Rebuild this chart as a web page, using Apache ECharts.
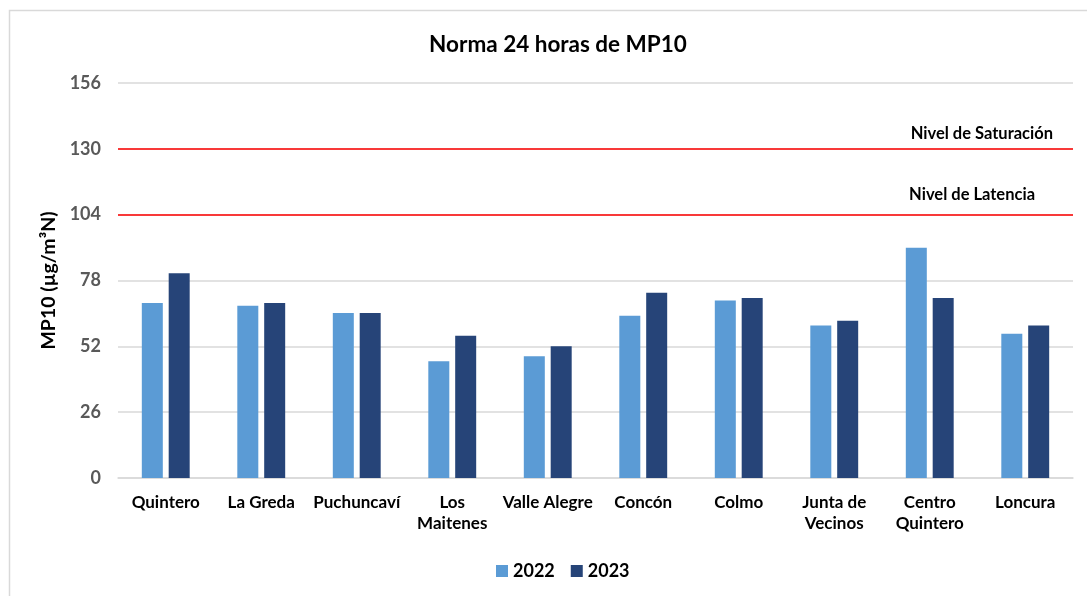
<!DOCTYPE html>
<html>
<head>
<meta charset="utf-8">
<title>Norma 24 horas de MP10</title>
<script src="https://cdn.jsdelivr.net/npm/echarts@6/dist/echarts.min.js"></script>
<style>
  html, body { margin: 0; padding: 0; background: #fff; }
  #chart { width: 1087px; height: 596px; }
</style>
</head>
<body>
<div id="chart"></div>
<script>
// datos
var estaciones = ['Quintero', 'La Greda', 'Puchuncaví', 'Los\nMaitenes', 'Valle Alegre', 'Concón', 'Colmo', 'Junta de\nVecinos', 'Centro\nQuintero', 'Loncura']
var anio2022 = [69.1, 68.0, 65.2, 46.1, 48.1, 64.1, 70.1, 60.2, 90.9, 57.0]
var anio2023 = [80.9, 69.1, 65.2, 56.2, 52.0, 73.2, 71.1, 62.1, 71.1, 60.2]
var nivelSaturacion = 130
var nivelLatencia = 104

var font = 'Lato, "Liberation Sans", sans-serif'

var chart = echarts.init(document.getElementById('chart'))

var options = {
  backgroundColor: '#fff',
  textStyle: { fontFamily: font },
  title: {
    text: 'Norma 24 horas de MP10',
    left: 553,
    top: 28,
    textAlign: 'center',
    textStyle: { fontFamily: font, fontSize: 22.5, fontWeight: 'bold', color: '#000' }
  },
  legend: {
    data: ['2022', '2023'],
    left: 491,
    top: 557,
    itemWidth: 12,
    itemHeight: 12,
    itemGap: 16,
    icon: 'rect',
    textStyle: { fontFamily: font, fontSize: 18, fontWeight: 'bold', color: '#000' }
  },
  grid: {
    left: 118,
    right: 14,
    top: 83,
    bottom: 118
  },
  xAxis: {
    type: 'category',
    data: estaciones,
    axisLine: { lineStyle: { color: '#d9d9d9', width: 1.5 } },
    axisTick: { show: false },
    axisLabel: {
      interval: 0,
      margin: 14,
      fontFamily: font,
      fontSize: 17,
      fontWeight: 'bold',
      color: '#000',
      lineHeight: 21
    }
  },
  yAxis: {
    type: 'value',
    min: 0,
    max: 156,
    interval: 26,
    name: 'MP10 (µg/m³N)',
    nameLocation: 'middle',
    nameRotate: 90,
    nameGap: 58,
    nameTextStyle: { fontFamily: font, fontSize: 19.5, fontWeight: 'bold', color: '#000' },
    axisLine: { show: false },
    axisTick: { show: false },
    axisLabel: { margin: 17, fontFamily: font, fontSize: 18, fontWeight: 'bold', color: '#595959' },
    splitLine: { lineStyle: { color: '#d9d9d9', width: 1.5 } }
  },
  series: [
    {
      name: '2022',
      type: 'bar',
      barWidth: 21,
      barGap: '28%',
      itemStyle: { color: '#5b9bd5' },
      data: anio2022,
      markLine: {
        silent: true,
        symbol: 'none',
        lineStyle: { color: '#ff0000', width: 1.5, type: 'solid' },
        label: {
          position: 'insideEndTop',
          fontFamily: font,
          fontSize: 16.5,
          fontWeight: 'bold',
          color: '#000'
        },
        data: [
          { yAxis: nivelSaturacion, label: { formatter: 'Nivel de Saturación', distance: [20, 7] } },
          { yAxis: nivelLatencia, label: { formatter: 'Nivel de Latencia', distance: [38, 11] } }
        ]
      }
    },
    {
      name: '2023',
      type: 'bar',
      barWidth: 21,
      barGap: '28%',
      itemStyle: { color: '#264478' },
      data: anio2023
    }
  ],
  graphic: [{
    type: 'rect',
    left: 7,
    top: 8,
    shape: { width: 1100, height: 600 },
    style: { fill: 'none', stroke: '#d9d9d9', lineWidth: 1.5 },
    silent: true
  }]
}

chart.setOption(options)

window.addEventListener('resize', function () {
  chart.resize()
}, false)
</script>
</body>
</html>
